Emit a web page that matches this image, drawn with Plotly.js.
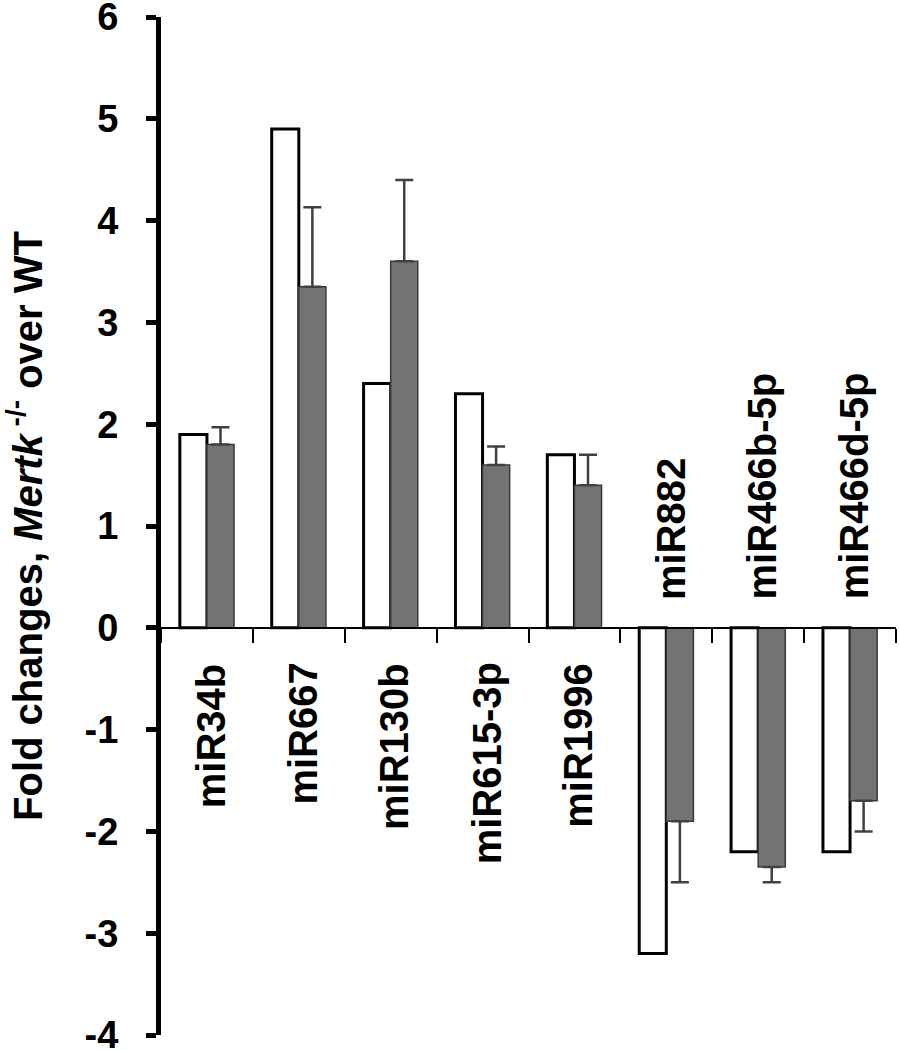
<!DOCTYPE html>
<html>
<head>
<meta charset="utf-8">
<script src="https://cdn.plot.ly/plotly-3.0.1.min.js"></script>
<style>html,body{margin:0;padding:0;background:#fff;}#chart{width:899px;height:1050px;}</style>
</head>
<body>
<div id="chart"></div>
<script>
const categories = ["miR34b", "miR667", "miR130b", "miR615-3p", "miR1996", "miR882", "miR466b-5p", "miR466d-5p"];
const whiteValues = [1.9, 4.9, 2.4, 2.3, 1.7, -3.2, -2.2, -2.2];
const grayValues = [1.8, 3.35, 3.6, 1.6, 1.4, -1.9, -2.35, -1.7];
const grayErrPlus = [0.17, 0.78, 0.8, 0.18, 0.3, 0, 0, 0];
const grayErrMinus = [0, 0, 0, 0, 0, 0.6, 0.15, 0.3];
const yTickVals = [-4, -3, -2, -1, 0, 1, 2, 3, 4, 5, 6];
const yTickText = ["-4", "-3", "-2", "-1", "0", "1", "2", "3", "4", "5", "6"];

const FONT = "Liberation Sans, Arial, sans-serif";

const traces = [
  {
    type: "bar", x: categories, y: whiteValues, name: "WT",
    marker: {color: "#ffffff", line: {color: "#000000", width: 3}}
  },
  {
    type: "bar", x: categories, y: grayValues, name: "Mertk",
    marker: {color: "#737373", line: {color: "#3a3a3a", width: 1.5}},
    error_y: {type: "data", symmetric: false, array: grayErrPlus, arrayminus: grayErrMinus,
              color: "#404040", thickness: 2.5, width: 9}
  }
];

const annotations = categories.map((c, i) => {
  const pos = whiteValues[i] >= 0;
  return {
    x: c, y: 0, xref: "x", yref: "y", text: "<b>" + c + "</b>", showarrow: false,
    textangle: -90, xanchor: "center", yanchor: pos ? "top" : "bottom",
    yshift: pos ? -33 : 26, xshift: 4,
    font: {family: FONT, size: 40, color: "#000"}
  };
});

const layout = {
  width: 899, height: 1050,
  margin: {l: 161, r: 3, t: 17, b: 15},
  paper_bgcolor: "#fff", plot_bgcolor: "#fff",
  showlegend: false,
  barmode: "group", bargap: 0.41, bargroupgap: 0,
  xaxis: {
    type: "category", range: [-0.5, 7.5], anchor: "free", position: 0.4,
    showline: true, linecolor: "#000", linewidth: 2,
    ticks: "outside", tickson: "boundaries", ticklen: 14, tickwidth: 2, tickcolor: "#000",
    showticklabels: false, showgrid: false, zeroline: false, fixedrange: true
  },
  yaxis: {
    range: [-4, 6], tickvals: yTickVals, ticktext: yTickText,
    showline: true, linecolor: "#000", linewidth: 5,
    ticks: "outside", ticklen: 10, tickwidth: 5, tickcolor: "#000",
    ticklabelstandoff: 20, ticklabeloverflow: "allow",
    tickfont: {family: FONT, size: 38, color: "#000", weight: "bold"},
    showgrid: false, zeroline: false,
    title: {text: "<b>Fold changes, <i>Mertk</i><sup> -/-</sup> over WT</b>", standoff: 40,
            font: {family: FONT, size: 40, color: "#000"}}
  },
  annotations: annotations
};

Plotly.newPlot("chart", traces, layout, {displayModeBar: false, staticPlot: true});
</script>
</body>
</html>
